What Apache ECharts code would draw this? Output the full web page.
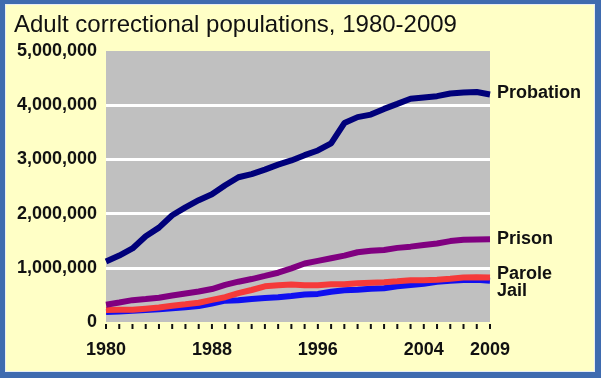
<!DOCTYPE html>
<html>
<head>
<meta charset="utf-8">
<script src="https://cdn.jsdelivr.net/npm/echarts@6/dist/echarts.min.js"></script>
<style>
html,body{margin:0;padding:0;background:#3F6BAF;}
#wrap{position:relative;width:601px;height:378px;background:#3F6BAF;overflow:hidden;}
#frame{position:absolute;left:5px;top:4px;width:588px;height:366px;background:#FFFFC6;border:1px solid #E6ECF5;box-sizing:content-box;}
#plotbg{position:absolute;left:106px;top:51px;width:384px;height:271px;background:#C0C0C0;}
#c{position:absolute;left:0;top:0;width:601px;height:378px;}
</style>
</head>
<body>
<div id="wrap"><div id="frame"></div><div id="plotbg"></div><div id="c"></div></div>
<script>
var years = [];
for (var y = 1980; y <= 2009; y++) years.push(String(y));
var tickLabels = ['1980','1988','1996','2004','2009'];
var probation = [1118097,1225934,1357264,1582947,1740948,1968712,2114621,2247158,2356483,2522125,2670234,2728472,2811611,2903061,2981022,3077861,3164996,3296513,3670441,3779922,3826209,3931731,4024067,4120012,4143792,4166757,4215361,4234471,4244046,4198155];
var prison = [319598,360029,402914,423898,448264,487593,526436,562814,607766,683367,743382,792535,850566,909381,990147,1078542,1127528,1176564,1224469,1287172,1316333,1330007,1367547,1390279,1421345,1448344,1492973,1517867,1522834,1524513];
var parole = [220438,225539,224604,246440,266992,300203,325638,355505,407977,456803,531407,590442,658601,676100,690371,679421,679733,694787,696385,714457,723898,732333,750934,769925,771852,780616,798202,821177,826097,819308];
var jail = [182288,195085,207853,221815,233018,254986,272736,294092,341893,393303,403019,424129,441781,455500,479800,507044,518492,557974,584372,596485,613534,623628,658228,684431,706907,740770,760400,773600,777852,760400];

var FONT = 'Liberation Sans, Arial, sans-serif';
var chart = echarts.init(document.getElementById('c'), null, {renderer:'canvas'});

function mk(name, data, color, dy) {
  return {
    name: name, type: 'line', data: data, symbol: 'none', xAxisIndex: 0,
    lineStyle: {color: color, width: 6},
    itemStyle: {color: color},
    endLabel: {show: true, formatter: name, color: '#111', fontFamily: FONT,
      fontWeight: 'bold', fontSize: 18, distance: 7, offset: [0, dy]},
    animation: false
  };
}

// year tick marks drawn through the axis scale
var tickSeries = {
  type: 'custom', name: 'ticks', silent: true, clip: false, xAxisIndex: 0,
  data: years.map(function(yr){ return [yr, 0]; }),
  encode: {x: 0, y: 1},
  renderItem: function(params, api) {
    var p = api.coord([api.value(0), 0]);
    return {type: 'line', shape: {x1: p[0], y1: p[1] + 2, x2: p[0], y2: p[1] + 7},
      style: {stroke: '#111', lineWidth: 2}};
  },
  z: 1, animation: false
};

var series = [
  mk('Jail', jail, '#1010F0', 10),
  mk('Parole', parole, '#F53A3A', -4),
  mk('Prison', prison, '#800080', 0),
  mk('Probation', probation, '#00007A', -1),
  tickSeries
];

chart.setOption({
  backgroundColor: 'transparent',
  animation: false,
  title: {
    text: 'Adult correctional populations, 1980-2009',
    left: 9, top: 8,
    textStyle: {fontFamily: FONT, fontWeight: 'normal', fontSize: 24, color: '#111'}
  },
  grid: {left: 106, right: 111, top: 51, bottom: 56},
  xAxis: [{
    type: 'category', data: years, boundaryGap: false, position: 'bottom',
    axisLine: {show: false},
    axisTick: {show: false},
    axisLabel: {interval: function(i, v){ return tickLabels.indexOf(v) >= 0; },
      margin: 19, fontFamily: FONT, fontWeight: 'bold', fontSize: 18, color: '#111'},
    splitLine: {show: false}
  }],
  yAxis: {
    type: 'value', min: 0, max: 5000000, interval: 1000000,
    axisLine: {show: false}, axisTick: {show: false},
    axisLabel: {margin: 9, fontFamily: FONT, fontWeight: 'bold', fontSize: 18, color: '#111',
      formatter: function(v){ return v.toLocaleString('en-US'); }},
    splitLine: {show: true, showMinLine: false, showMaxLine: false,
      lineStyle: {color: '#FFFFFF', width: 3}}
  },
  series: series
});
</script>
</body>
</html>
